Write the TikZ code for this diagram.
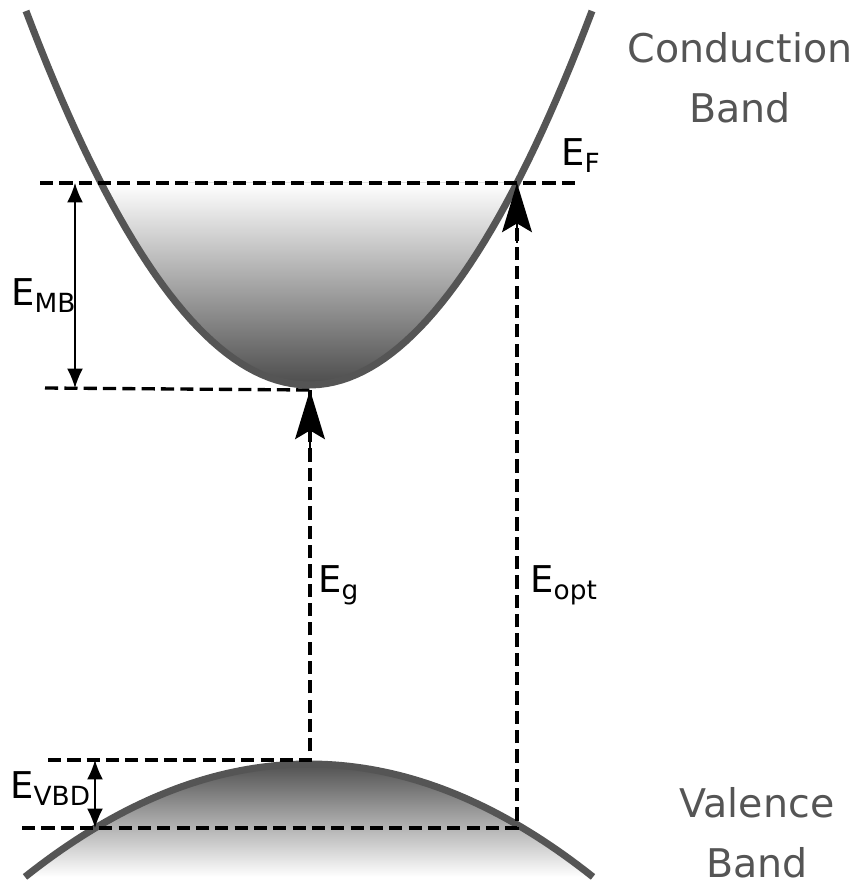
\documentclass[tikz,border=0pt]{standalone}
\usepackage{fontspec}
\setmainfont{DejaVu Sans}
\usepackage{xcolor}
\usepackage{tikz}
\usetikzlibrary{arrows.meta, positioning, calc}
\definecolor{bandgray}{HTML}{555555}
\newcommand{\Elbl}[1]{E\raisebox{-4pt}{\fontsize{15}{16}\selectfont #1}}
\tikzset{
  bandcurve/.style={
    draw=bandgray, line width=4pt
  },
  leveldash/.style={
    black, line width=1.9pt, dash pattern=on 7.5pt off 3.5pt
  },
  bigarrow/.style={
    -{Stealth[length=28pt, width=17pt, inset=5pt]}, solid, line width=1pt
  },
  gaparrow/.style={
    {Latex[length=11pt, width=9pt]}-{Latex[length=11pt, width=9pt]},
    line width=0.85pt
  },
  elabel/.style={
    font=\fontsize{21}{24}\selectfont, inner sep=0pt, anchor=base west
  },
  bandlabel/.style={
    font=\fontsize{22.5}{34}\selectfont, text=bandgray,
    align=center, inner sep=0pt
  },
}

\begin{document}
\begin{tikzpicture}[x=0.02cm, y=-0.02cm]
  \useasboundingbox (0,0) rectangle (858,887);

  % Level points
  \coordinate (efL) at (40,183);
  \coordinate (efR) at (577,183);
  \coordinate (efhit) at (517,183);
  \coordinate (cbL) at (45,388);
  \coordinate (cbmin) at (310,390);
  \coordinate (vbtopL) at (48,760);
  \coordinate (vbtop) at (310,760);
  \coordinate (vbL) at (22,828);
  \coordinate (vbhit) at (517,828);
  \coordinate (mbT) at (75,183);
  \coordinate (mbB) at (75,388);
  \coordinate (vbdT) at (95,760);
  \coordinate (vbdB) at (95,828);

  % Filled states
  \fill[top color=white, bottom color=black!70]
    (101,183) -- plot[domain=101:517, samples=60] (\x, {385-46.7*((\x-309)/100)^2}) -- cycle;
  \fill[top color=black!68, bottom color=white]
    plot[domain=25:593, samples=60] (\x, {764+14*((\x-309)/100)^2}) -- cycle;

  % Bands
  \draw[bandcurve] plot[domain=26:592, samples=80] (\x, {385-46.7*((\x-309)/100)^2});
  \draw[bandcurve] plot[domain=25:593, samples=80] (\x, {764+14*((\x-309)/100)^2});

  % Levels and transitions
  \draw[leveldash] (efL) -- (efR);
  \draw[leveldash] (cbL) -- (cbmin);
  \draw[leveldash] (vbtopL) -- (vbtop) -- (cbmin);
  \draw[leveldash] (vbL) -- (vbhit) -- (efhit);
  \draw[bigarrow] ($(cbmin)+(0,60)$) -- (cbmin);
  \draw[bigarrow] ($(efhit)+(0,60)$) -- (efhit);

  \draw[gaparrow] (mbT) -- (mbB);
  \draw[gaparrow] (vbdT) -- (vbdB);

  % Labels
  \node[elabel] (lblEF) at (561,165) {\Elbl{F}};
  \node[elabel] (lblEMB) at (11,305) {\Elbl{MB}};
  \node[elabel] (lblEg) at (318,592) {\Elbl{g}};
  \node[elabel] (lblEopt) at (530,592) {\Elbl{opt}};
  \node[elabel] (lblEVBD) at (10,798) {\Elbl{VBD}};

  \node[bandlabel] (cbtext) at (740,78) {Conduction\\Band};
  \node[bandlabel] (vbtext) at (757,833) {Valence\\Band};
\end{tikzpicture}
\end{document}
